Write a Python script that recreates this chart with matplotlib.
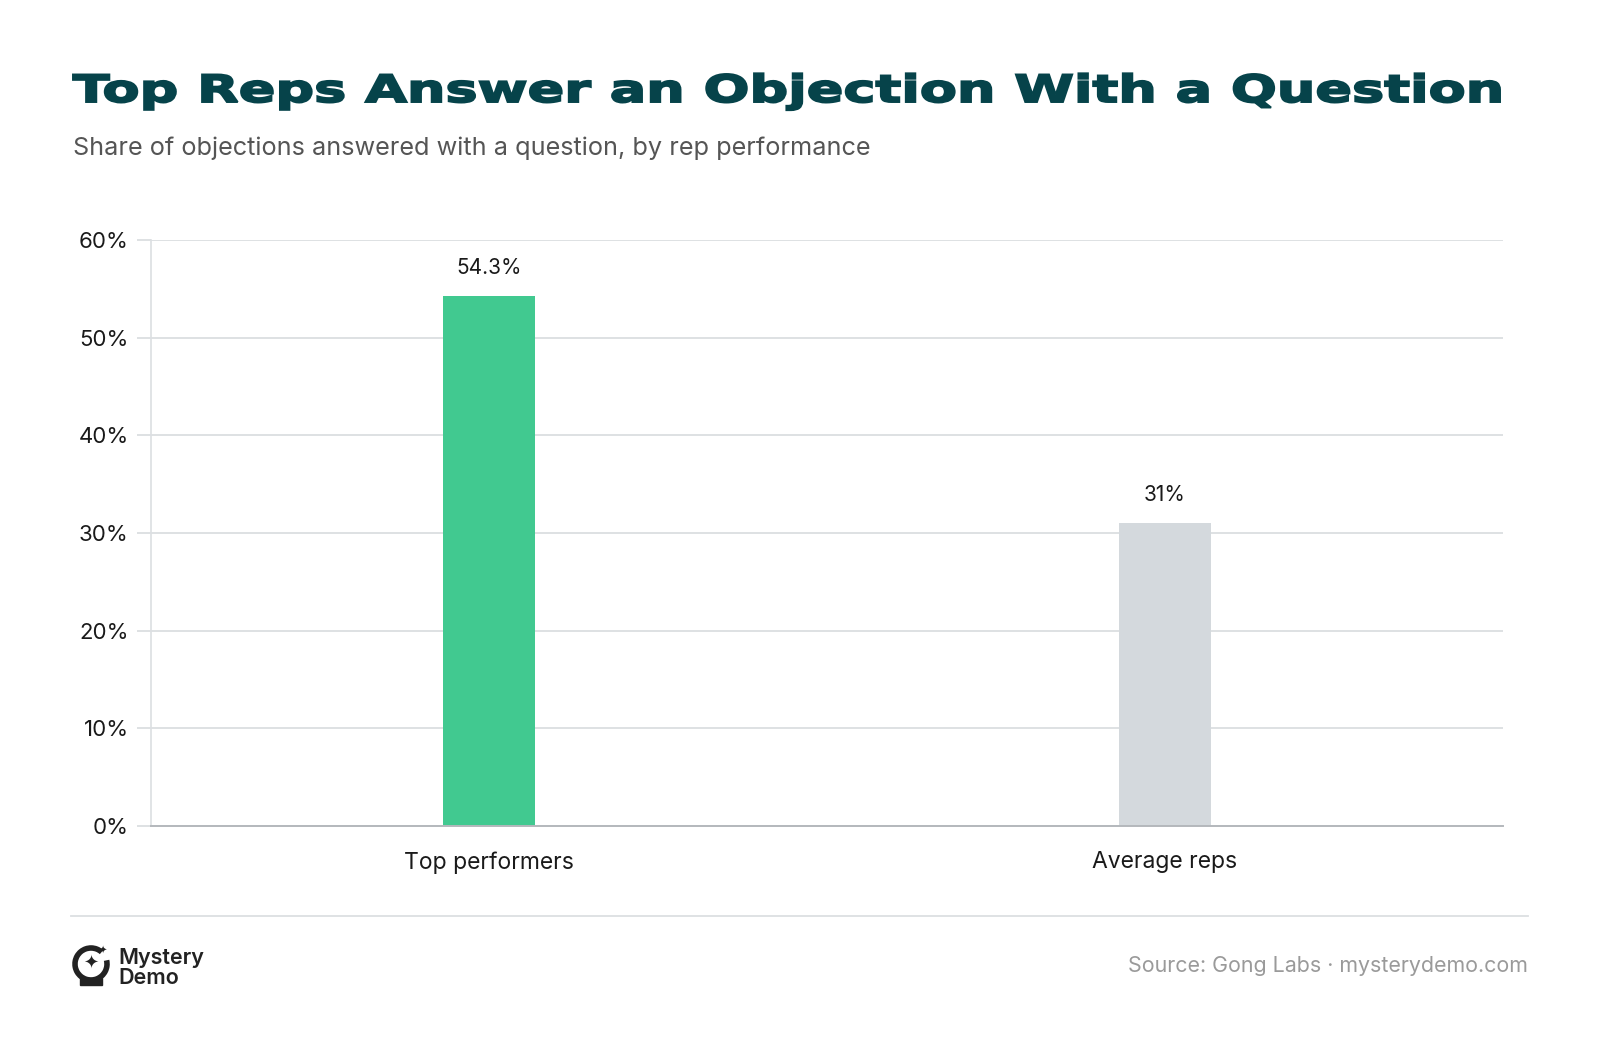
import matplotlib.pyplot as plt
from matplotlib.patches import Arc, Rectangle, PathPatch
from matplotlib.lines import Line2D
from matplotlib.textpath import TextPath
from matplotlib.font_manager import FontProperties
from matplotlib.transforms import Affine2D, IdentityTransform

# data
groups = ['Top performers', 'Average reps']
share = [54.3, 31]
labels = ['54.3%', '31%']
bar_colors = ['#41c990', '#d4d9dd']
yticks = [0, 10, 20, 30, 40, 50, 60]
title = 'Top Reps Answer an Objection With a Question'

plt.rcParams['font.family'] = ['Inter', 'DejaVu Sans']

W, H = 1600, 1042
fig = plt.figure(figsize=(W / 100, H / 100), dpi=100)
fig.patch.set_facecolor('white')

# axes position in pixels: left 151, right 1503, top 240, bottom 826
ax = fig.add_axes([151 / W, 1 - 826 / H, (1503 - 151) / W, (826 - 240) / H])

x = list(range(len(groups)))
ax.bar(x, share, width=0.136, color=bar_colors, zorder=3)
for xi, v, t in zip(x, share, labels):
    ax.annotate(t, (xi, v), xytext=(0, 13), textcoords='offset points',
                ha='center', va='bottom', fontsize=15, color='#1a1a1a')

ax.set_xlim(-0.5, 1.5)
ax.set_ylim(0, 60)
ax.set_yticks(yticks)
ax.set_yticklabels([f'{v}%' for v in yticks])
ax.set_xticks(x)
ax.set_xticklabels(groups)
ax.grid(axis='y', color='#d8dbde', linewidth=1.2, zorder=0)
ax.tick_params(axis='y', length=10, width=1.2, color='#d8dbde', pad=6,
               labelsize=16, labelcolor='#1a1a1a')
ax.tick_params(axis='x', length=0, pad=18, labelsize=16.5, labelcolor='#1a1a1a')
for s in ['top', 'right']:
    ax.spines[s].set_visible(False)
ax.spines['left'].set_color('#dcdfe2')
ax.spines['left'].set_linewidth(1.2)
ax.spines['bottom'].set_color('#b4b8bc')
ax.spines['bottom'].set_linewidth(1.4)
ax.spines['bottom'].set_zorder(4)

# title: wide heavy lettering, drawn as a stretched text path
fp = FontProperties(family='DejaVu Sans', weight='bold')
tp = TextPath((0, 0), title, size=100, prop=fp)
cap = TextPath((0, 0), 'T', size=100, prop=fp).get_extents().height
ext = tp.get_extents()
sx = (1500 - 73) / ext.width
sy = 27.5 / cap
tr = Affine2D().translate(-ext.x0, 0).scale(sx, sy).translate(73, H - 102)
fig.add_artist(PathPatch(tr.transform_path(tp), transform=IdentityTransform(),
                         facecolor='#06434a', edgecolor='#06434a', linewidth=1.4))

fig.text(73 / W, 1 - 148 / H, 'Share of objections answered with a question, by rep performance',
         fontsize=18.2, color='#555555', ha='left', va='center')

# footer
fig.add_artist(Line2D([71 / W, 1528 / W], [1 - 916 / H, 1 - 916 / H],
                      color='#dcdfe2', linewidth=1.3))
fig.text(1528 / W, 1 - 966 / H, 'Source: Gong Labs \u00b7 mysterydemo.com',
         fontsize=15.4, color='#9a9a9a', ha='right', va='center')

# logo
fig.add_artist(Arc((91 / W, 1 - 964 / H), 32 / W, 32 / H, theta1=60, theta2=380,
                   color='#222222', linewidth=4))
fig.add_artist(Rectangle((80 / W, 1 - 985 / H), 22 / W, 7 / H, color='#222222'))
fig.text(91 / W, 1 - 964 / H, '\u2726', fontsize=13, color='#222222',
         ha='center', va='center', family=['DejaVu Sans'])
fig.text(103 / W, 1 - 951 / H, '\u2726', fontsize=7, color='#222222',
         ha='center', va='center', family=['DejaVu Sans'])
fig.text(118 / W, 1 - 958 / H, 'Mystery', fontsize=15.5, fontweight='semibold',
         color='#222222', ha='left', va='center')
fig.text(118 / W, 1 - 978 / H, 'Demo', fontsize=15.5, fontweight='semibold',
         color='#222222', ha='left', va='center')

fig.savefig('out.png', dpi=100, facecolor='white')
